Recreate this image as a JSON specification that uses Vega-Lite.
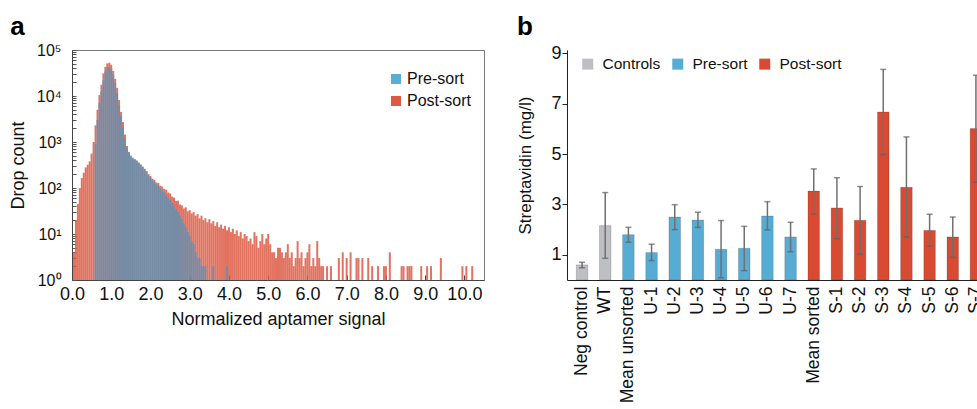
{
  "$schema": "https://vega.github.io/schema/vega-lite/v6.json",
  "autosize": {"type": "none"},
  "padding": {"left": 72, "top": 50, "right": 905, "bottom": 359},
  "config": {
    "font": "Liberation Sans",
    "view": {"stroke": null},
    "axis": {"grid": false, "labelColor": "#111", "titleColor": "#111", "titleFontWeight": "normal"},
    "title": {"color": "#000"}
  },
  "datasets": {
    "post": [
      {"x":0.05,"c":4},{"x":0.10,"c":20},{"x":0.15,"c":45},{"x":0.20,"c":100},{"x":0.25,"c":165},{"x":0.30,"c":215},{"x":0.35,"c":280},{"x":0.40,"c":320},{"x":0.45,"c":380},{"x":0.50,"c":560},
      {"x":0.55,"c":1000},{"x":0.60,"c":2300},{"x":0.65,"c":5000},{"x":0.70,"c":10500},{"x":0.75,"c":17500},{"x":0.80,"c":31000},{"x":0.85,"c":43000},{"x":0.90,"c":51000},{"x":0.95,"c":53000},{"x":1.00,"c":48000},
      {"x":1.05,"c":35000},{"x":1.10,"c":23500},{"x":1.15,"c":15000},{"x":1.20,"c":8200},{"x":1.25,"c":4500},{"x":1.30,"c":2700},{"x":1.35,"c":1450},{"x":1.40,"c":820},{"x":1.45,"c":590},{"x":1.50,"c":480},
      {"x":1.55,"c":435},{"x":1.60,"c":410},{"x":1.65,"c":390},{"x":1.70,"c":350},{"x":1.75,"c":320},{"x":1.80,"c":290},{"x":1.85,"c":262},{"x":1.90,"c":235},{"x":1.95,"c":200},{"x":2.00,"c":182},
      {"x":2.05,"c":160},{"x":2.10,"c":150},{"x":2.15,"c":132},{"x":2.20,"c":128},{"x":2.25,"c":112},{"x":2.30,"c":108},{"x":2.35,"c":96},{"x":2.40,"c":92},{"x":2.45,"c":80},{"x":2.50,"c":76},
      {"x":2.55,"c":65},{"x":2.60,"c":62},{"x":2.65,"c":52},{"x":2.70,"c":53},{"x":2.75,"c":44},{"x":2.80,"c":42},{"x":2.85,"c":36},{"x":2.90,"c":38},{"x":2.95,"c":31},{"x":3.00,"c":33},
      {"x":3.05,"c":28},{"x":3.10,"c":30},{"x":3.15,"c":25},{"x":3.20,"c":27},{"x":3.25,"c":22},{"x":3.30,"c":25},{"x":3.35,"c":20},{"x":3.40,"c":22},{"x":3.45,"c":18},{"x":3.50,"c":21},
      {"x":3.55,"c":17},{"x":3.60,"c":19},{"x":3.65,"c":15},{"x":3.70,"c":18},{"x":3.75,"c":14},{"x":3.80,"c":16},{"x":3.85,"c":13},{"x":3.90,"c":15},{"x":3.95,"c":12},{"x":4.00,"c":14},
      {"x":4.05,"c":11},{"x":4.10,"c":13},{"x":4.15,"c":10},{"x":4.20,"c":12},{"x":4.25,"c":9},{"x":4.30,"c":11},{"x":4.35,"c":8},{"x":4.40,"c":10},{"x":4.45,"c":9},{"x":4.50,"c":7},
      {"x":4.55,"c":8},{"x":4.60,"c":6},{"x":4.65,"c":11},{"x":4.70,"c":9},{"x":4.75,"c":5},{"x":4.80,"c":7},{"x":4.85,"c":10},{"x":4.90,"c":6},{"x":4.95,"c":8},{"x":5.00,"c":10},
      {"x":5.05,"c":6},{"x":5.10,"c":4},{"x":5.15,"c":4},{"x":5.20,"c":3},{"x":5.25,"c":5},{"x":5.30,"c":5},{"x":5.35,"c":4},{"x":5.40,"c":3},{"x":5.45,"c":4},{"x":5.50,"c":6},
      {"x":5.55,"c":3},{"x":5.60,"c":4},{"x":5.65,"c":2},{"x":5.70,"c":3},{"x":5.75,"c":7},{"x":5.80,"c":3},{"x":5.85,"c":4},{"x":5.90,"c":2},{"x":5.95,"c":3},{"x":6.00,"c":4},
      {"x":6.05,"c":6},{"x":6.10,"c":2},{"x":6.15,"c":3},{"x":6.20,"c":2},{"x":6.25,"c":7},{"x":6.30,"c":3},{"x":6.35,"c":2},{"x":6.40,"c":2},{"x":6.50,"c":2},{"x":6.60,"c":2},
      {"x":6.80,"c":3},{"x":6.90,"c":4},{"x":7.00,"c":3},{"x":7.10,"c":4},{"x":7.25,"c":3},{"x":7.30,"c":3},{"x":7.40,"c":3},{"x":7.55,"c":3},{"x":7.65,"c":2},{"x":7.80,"c":2},
      {"x":7.95,"c":2},{"x":8.00,"c":2},{"x":8.10,"c":4},{"x":8.40,"c":2},{"x":8.45,"c":2},{"x":8.55,"c":2},{"x":8.60,"c":2},{"x":8.65,"c":2},{"x":8.90,"c":2},{"x":9.05,"c":2},
      {"x":9.15,"c":2},{"x":9.40,"c":3},{"x":9.95,"c":2},{"x":10.05,"c":2},{"x":10.20,"c":2}
    ],
    "pre": [
      {"x":0.60,"c":900},{"x":0.65,"c":3000},{"x":0.70,"c":7000},{"x":0.75,"c":12500},{"x":0.80,"c":22000},{"x":0.85,"c":34000},{"x":0.90,"c":42000},{"x":0.95,"c":43000},{"x":1.00,"c":39000},{"x":1.05,"c":29000},
      {"x":1.10,"c":19000},{"x":1.15,"c":11500},{"x":1.20,"c":6300},{"x":1.25,"c":3700},{"x":1.30,"c":2100},{"x":1.35,"c":1150},{"x":1.40,"c":760},{"x":1.45,"c":610},{"x":1.50,"c":505},{"x":1.55,"c":455},
      {"x":1.60,"c":425},{"x":1.65,"c":395},{"x":1.70,"c":360},{"x":1.75,"c":325},{"x":1.80,"c":290},{"x":1.85,"c":255},{"x":1.90,"c":220},{"x":1.95,"c":185},{"x":2.00,"c":165},{"x":2.05,"c":150},
      {"x":2.10,"c":135},{"x":2.15,"c":122},{"x":2.20,"c":110},{"x":2.25,"c":100},{"x":2.30,"c":90},{"x":2.35,"c":80},{"x":2.40,"c":70},{"x":2.45,"c":62},{"x":2.50,"c":55},{"x":2.55,"c":47},
      {"x":2.60,"c":40},{"x":2.65,"c":34},{"x":2.70,"c":30},{"x":2.75,"c":25},{"x":2.80,"c":21},{"x":2.85,"c":17},{"x":2.90,"c":14},{"x":2.95,"c":11},{"x":3.00,"c":9},{"x":3.05,"c":7},
      {"x":3.10,"c":6},{"x":3.15,"c":4},{"x":3.20,"c":3},{"x":3.25,"c":3},{"x":3.30,"c":2},{"x":3.35,"c":2},{"x":3.40,"c":2},{"x":3.60,"c":2},{"x":3.95,"c":2}
    ],
    "bars": [
      {"n":"Neg control","g":"Controls","v":0.60,"lo":0.49,"hi":0.70},
      {"n":"WT","g":"Controls","v":2.16,"lo":0.86,"hi":3.47},
      {"n":"Mean unsorted","g":"Pre-sort","v":1.80,"lo":1.50,"hi":2.09},
      {"n":"U-1","g":"Pre-sort","v":1.09,"lo":0.77,"hi":1.42},
      {"n":"U-2","g":"Pre-sort","v":2.50,"lo":2.00,"hi":2.99},
      {"n":"U-3","g":"Pre-sort","v":2.38,"lo":2.09,"hi":2.69},
      {"n":"U-4","g":"Pre-sort","v":1.22,"lo":0.09,"hi":2.36},
      {"n":"U-5","g":"Pre-sort","v":1.26,"lo":0.37,"hi":2.13},
      {"n":"U-6","g":"Pre-sort","v":2.54,"lo":1.99,"hi":3.11},
      {"n":"U-7","g":"Pre-sort","v":1.71,"lo":1.12,"hi":2.29},
      {"n":"Mean sorted","g":"Post-sort","v":3.53,"lo":2.62,"hi":4.41},
      {"n":"S-1","g":"Post-sort","v":2.86,"lo":1.64,"hi":4.06},
      {"n":"S-2","g":"Post-sort","v":2.37,"lo":1.02,"hi":3.71},
      {"n":"S-3","g":"Post-sort","v":6.67,"lo":4.98,"hi":8.36},
      {"n":"S-4","g":"Post-sort","v":3.68,"lo":1.71,"hi":5.68},
      {"n":"S-5","g":"Post-sort","v":1.97,"lo":1.34,"hi":2.61},
      {"n":"S-6","g":"Post-sort","v":1.71,"lo":0.90,"hi":2.50},
      {"n":"S-7","g":"Post-sort","v":6.01,"lo":3.88,"hi":8.13}
    ]
  },
  "resolve": {"scale": {"color": "independent"}, "legend": {"color": "independent"}},
  "spacing": 31,
  "hconcat": [
    {
      "title": {"text": "a", "anchor": "start", "frame": "bounds", "fontSize": 26, "fontWeight": "bold", "offset": 3, "dy": 1, "dx": 1},
      "width": 412,
      "height": 230,
      "view": {"stroke": "#777", "strokeWidth": 1},
      "layer": [
        {
          "data": {"name": "post"},
          "mark": {"type": "bar", "width": 2, "opacity": 0.85},
          "encoding": {
            "x": {"field": "x", "type": "quantitative", "scale": {"domain": [0, 10.5], "nice": false, "zero": false, "padding": 0},
              "axis": {"orient": "bottom", "values": [0,1,2,3,4,5,6,7,8,9,10], "format": ".1f", "title": "Normalized aptamer signal",
                "titleFontSize": 18, "labelFontSize": 18, "domain": true, "ticks": true, "tickSize": -5, "labelPadding": 10, "titlePadding": 7,
                "domainColor": "#444", "tickColor": "#444", "labelFlush": false, "labelOverlap": false}},
            "y": {"field": "c", "type": "quantitative", "scale": {"type": "log", "domain": [1, 100000], "nice": false},
              "axis": {"orient": "left", "title": "Drop count", "titleFontSize": 18, "labelFontSize": 16, "labelPadding": 15, "titlePadding": 9,
                "values": [1,2,3,4,5,6,7,8,9,10,20,30,40,50,60,70,80,90,100,200,300,400,500,600,700,800,900,1000,2000,3000,4000,5000,6000,7000,8000,9000,10000,20000,30000,40000,50000,60000,70000,80000,90000,100000],
                "labelExpr": "datum.value === 1 ? '10⁰' : datum.value === 10 ? '10¹' : datum.value === 100 ? '10²' : datum.value === 1000 ? '10³' : datum.value === 10000 ? '10⁴' : datum.value === 100000 ? '10⁵' : ''",
                "domain": true, "ticks": true, "tickSize": -4,
                "domainColor": "#444", "tickColor": "#555", "labelOverlap": false}},
            "y2": {"datum": 1},
            "color": {"datum": "Post-sort", "type": "nominal",
              "scale": {"domain": ["Pre-sort", "Post-sort"], "range": ["#5aaed2", "#dc5a44"]},
              "legend": {"orient": "none", "legendX": 316, "legendY": 21, "title": null, "symbolType": "square", "symbolSize": 100,
                "symbolOpacity": 1, "symbolStrokeWidth": 0, "labelFontSize": 16, "labelColor": "#111", "rowPadding": 6, "labelOffset": 3, "padding": 0}}
          }
        },
        {
          "data": {"name": "pre"},
          "mark": {"type": "bar", "width": 2, "opacity": 0.85, "color": "#6390b2"},
          "encoding": {
            "x": {"field": "x", "type": "quantitative"},
            "y": {"field": "c", "type": "quantitative"},
            "y2": {"datum": 1}
          }
        }
      ]
    },
    {
      "title": {"text": "b", "anchor": "start", "frame": "bounds", "fontSize": 26, "fontWeight": "bold", "offset": 6, "dy": 2},
      "width": 424,
      "height": 230,
      "data": {"name": "bars"},
      "layer": [
        {
          "mark": {"type": "bar", "stroke": "#000", "strokeOpacity": 0.15, "strokeWidth": 1},
          "encoding": {
            "x": {"field": "n", "type": "nominal", "sort": null, "scale": {"paddingInner": 0.5, "paddingOuter": 0.4},
              "axis": {"title": null, "labelAngle": -90, "ticks": false, "labelFontSize": 17.5, "labelPadding": 6, "domainColor": "#222", "labelColor": "#111"}},
            "y": {"field": "v", "type": "quantitative", "title": "Streptavidin (mg/l)", "scale": {"domain": [0, 9.13], "nice": false},
              "axis": {"values": [1,2,3,4,5,6,7,8,9], "titleFontSize": 17, "labelFontSize": 18, "tickSize": 5, "labelPadding": 1, "titlePadding": 16,
                "domainColor": "#222", "tickColor": "#222", "labelOverlap": false}},
            "color": {"field": "g", "type": "nominal",
              "scale": {"domain": ["Controls", "Pre-sort", "Post-sort"], "range": ["#bebfc3", "#57acd3", "#d84b32"]},
              "legend": {"orient": "none", "direction": "horizontal", "legendX": 13, "legendY": 6, "title": null, "symbolType": "square", "symbolSize": 121,
                "symbolStrokeWidth": 0, "labelFontSize": 15.5, "labelColor": "#111", "columnPadding": 9, "labelOffset": 7, "padding": 0}}
          }
        },
        {
          "mark": {"type": "rule", "color": "#707070", "strokeWidth": 1.5},
          "encoding": {
            "x": {"field": "n", "type": "nominal", "sort": null},
            "y": {"field": "lo", "type": "quantitative", "title": "Streptavidin (mg/l)"},
            "y2": {"field": "hi"}
          }
        },
        {
          "mark": {"type": "tick", "orient": "horizontal", "color": "#606060", "size": 6, "thickness": 1.5},
          "encoding": {
            "x": {"field": "n", "type": "nominal", "sort": null},
            "y": {"field": "lo", "type": "quantitative", "title": "Streptavidin (mg/l)"}
          }
        },
        {
          "mark": {"type": "tick", "orient": "horizontal", "color": "#606060", "size": 6, "thickness": 1.5},
          "encoding": {
            "x": {"field": "n", "type": "nominal", "sort": null},
            "y": {"field": "hi", "type": "quantitative", "title": "Streptavidin (mg/l)"}
          }
        }
      ]
    }
  ]
}
